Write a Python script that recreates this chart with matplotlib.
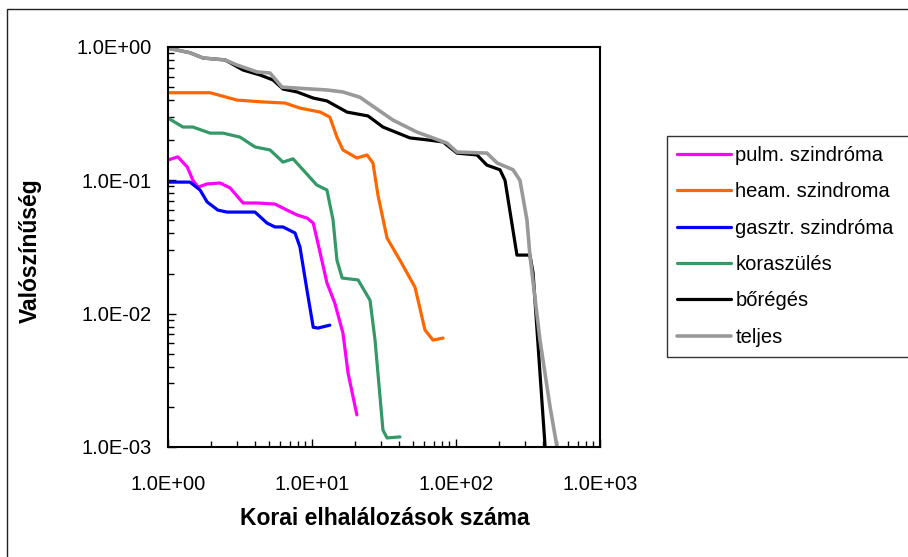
import numpy as np
import matplotlib
matplotlib.use('Agg')
import matplotlib.pyplot as plt
from matplotlib.patches import Rectangle
from matplotlib.ticker import FuncFormatter, LogLocator, NullFormatter

plt.rcParams['font.family'] = ['Liberation Sans', 'DejaVu Sans']

# pulm. szindróma
pulm_x = [1.0, 1.17, 1.36, 1.49, 1.62, 1.87, 2.30, 2.70, 3.32, 4.15, 5.53, 6.70, 7.87, 9.23, 10.2, 11.4, 12.7, 14.4, 16.4, 17.8, 20.5]
pulm_y = [0.142, 0.15, 0.126, 0.10, 0.089, 0.094, 0.0955, 0.0876, 0.0676, 0.0676, 0.0664, 0.0598, 0.055, 0.0521, 0.0478, 0.0285, 0.017, 0.012, 0.00716, 0.00358, 0.00174]

# heam. szindroma
heam_x = [1.0, 1.96, 3.01, 4.57, 6.49, 8.25, 11.4, 13.3, 14.9, 16.4, 20.5, 24.1, 26.5, 28.7, 33.2, 40.8, 51.9, 60.9, 69.2, 81.3]
heam_y = [0.454, 0.454, 0.40, 0.387, 0.38, 0.348, 0.325, 0.298, 0.211, 0.169, 0.147, 0.155, 0.135, 0.0776, 0.0369, 0.0252, 0.0158, 0.00754, 0.00634, 0.00656]

# gasztr. szindróma
gasztr_x = [1.0, 1.42, 1.67, 1.87, 2.22, 2.57, 4.02, 4.87, 5.53, 6.29, 7.62, 8.25, 9.23, 10.2, 11.0, 13.3]
gasztr_y = [0.097, 0.097, 0.0846, 0.0688, 0.0598, 0.0578, 0.0578, 0.0478, 0.0447, 0.0447, 0.0403, 0.0316, 0.015, 0.0079, 0.0078, 0.0082]

# koraszülés
kora_x = [1.0, 1.27, 1.49, 1.96, 2.41, 3.16, 4.02, 5.11, 6.29, 7.38, 8.66, 10.8, 12.7, 14.0, 14.9, 16.2, 20.9, 25.3, 27.4, 28.7, 31.1, 33.2, 40.8]
kora_y = [0.293, 0.251, 0.251, 0.226, 0.226, 0.211, 0.178, 0.169, 0.137, 0.145, 0.12, 0.0922, 0.0846, 0.0504, 0.0252, 0.0185, 0.0179, 0.0126, 0.00634, 0.00358, 0.00134, 0.00117, 0.00119]

# bőrégés
bor_x = [1.0, 1.42, 1.75, 2.49, 3.32, 4.35, 5.36, 6.29, 7.87, 10.2, 12.7, 17.5, 24.5, 31.1, 47.9, 65.9, 81.3, 101.6, 140, 164, 202, 219, 265, 326, 343, 383, 415]
bor_y = [0.98, 0.906, 0.827, 0.80, 0.672, 0.617, 0.566, 0.484, 0.46, 0.414, 0.394, 0.325, 0.304, 0.251, 0.208, 0.20, 0.194, 0.16, 0.155, 0.13, 0.12, 0.10, 0.0275, 0.0275, 0.0202, 0.00358, 0.00103]

# teljes
telj_x = [1.0, 1.42, 1.75, 2.49, 3.01, 4.15, 5.11, 6.19, 8.25, 12.7, 16.4, 21.5, 36.5, 53.6, 69.2, 86.6, 101.6, 164, 193, 249, 278, 311, 326, 383, 450, 503]
telj_y = [0.98, 0.906, 0.827, 0.80, 0.733, 0.65, 0.638, 0.50, 0.49, 0.476, 0.46, 0.42, 0.283, 0.23, 0.208, 0.19, 0.163, 0.16, 0.135, 0.12, 0.10, 0.0504, 0.0275, 0.00634, 0.002, 0.001]

series = [
    ('pulm. szindróma', pulm_x, pulm_y, '#FF00FF', 2.3),
    ('heam. szindroma', heam_x, heam_y, '#FF6600', 2.3),
    ('gasztr. szindróma', gasztr_x, gasztr_y, '#0000FF', 2.3),
    ('koraszülés', kora_x, kora_y, '#339966', 2.3),
    ('bőrégés', bor_x, bor_y, '#000000', 2.3),
    ('teljes', telj_x, telj_y, '#999999', 2.6),
]

fig = plt.figure(figsize=(9.08, 5.57), dpi=100)
ax = fig.add_axes([168/908, 1-447/557, 432/908, 400/557])

for name, xs, ys, col, lw in series:
    ax.plot(xs, ys, color=col, lw=lw, label=name, solid_joinstyle='round', solid_capstyle='round')

ax.set_xscale('log')
ax.set_yscale('log')
ax.set_xlim(1, 1000)
ax.set_ylim(1e-3, 1)

fmt = FuncFormatter(lambda v, p: f'{v:.1E}')
ax.xaxis.set_major_locator(LogLocator(base=10, numticks=10))
ax.yaxis.set_major_locator(LogLocator(base=10, numticks=10))
ax.xaxis.set_major_formatter(fmt)
ax.yaxis.set_major_formatter(fmt)
ax.xaxis.set_minor_formatter(NullFormatter())
ax.yaxis.set_minor_formatter(NullFormatter())
ax.tick_params(which='both', direction='in', top=False, right=False, width=1, colors='black')
ax.tick_params(which='major', length=6, labelsize=14.5)
ax.tick_params(which='minor', length=4)
ax.tick_params(axis='y', which='major', pad=12)
ax.tick_params(axis='x', which='major', pad=20)
for s in ax.spines.values():
    s.set_linewidth(1.5)

ax.set_xlabel('Korai elhalálozások száma', fontsize=16.5, fontweight='bold')
ax.set_ylabel('Valószínűség', fontsize=16.5, fontweight='bold')
ax.xaxis.label.set_va('center')
ax.yaxis.label.set_va('center')
ax.xaxis.set_label_coords(0.502, -0.178)
ax.yaxis.set_label_coords(-0.318, 0.49)

leg = fig.legend(loc='upper left', bbox_to_anchor=(667/908, 1-359/557, 260/908, 223/557),
                 mode='expand', fontsize=14.5, frameon=True, fancybox=False, edgecolor='black',
                 handlelength=2.7, handletextpad=0.2, borderpad=0.5, labelspacing=0.86,
                 borderaxespad=0)
leg.get_frame().set_linewidth(1.0)

fig.patches.append(Rectangle((7/908, -0.1), 1.0, 1-9/557+0.1, transform=fig.transFigure,
                             fill=False, edgecolor='#222222', lw=1.0))

fig.savefig('out.png', dpi=100)
